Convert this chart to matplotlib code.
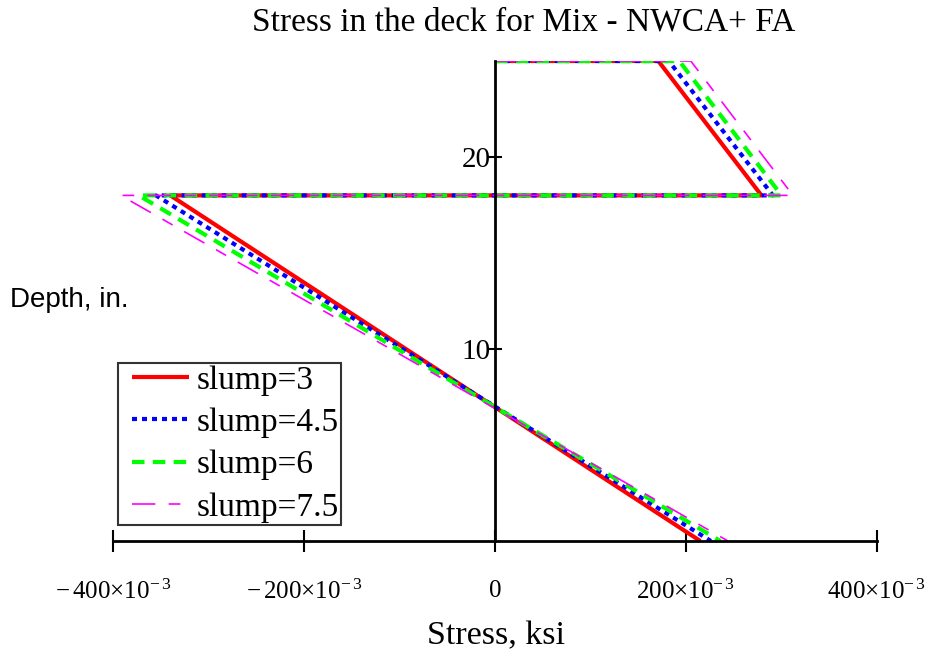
import matplotlib
matplotlib.use("Agg")
import matplotlib.pyplot as plt
from matplotlib.lines import Line2D
from matplotlib.legend_handler import HandlerLine2D

plt.rcParams['font.family'] = ['Liberation Serif', 'DejaVu Serif']
plt.rcParams['mathtext.fontset'] = 'custom'
plt.rcParams['mathtext.rm'] = 'Liberation Serif'
plt.rcParams['mathtext.it'] = 'Liberation Serif'

# stress profile points (ksi) for each slump, depth in inches
labels = ['slump=3', 'slump=4.5', 'slump=6', 'slump=7.5']
depth = [25, 25, 18, 18, 0]
x_top_25 = [0.171, 0.182, 0.193, 0.205]
x_top_18 = [0.279, 0.291, 0.300, 0.312]
x_bot_18 = [-0.340, -0.355, -0.373, -0.392]
x_bot_0 = [0.215, 0.226, 0.236, 0.244]

colors = ['#ff0000', '#0000ff', '#00ff00', '#ff00ff']
styles = ['-', (0, (1.2, 1.2)), (0, (3, 2)), (0, (14, 8, 7, 8))]
widths = [3, 3, 3, 1.2]

xticks = [-0.4, -0.2, 0, 0.2, 0.4]
xticklabels = [r'$-\,400{\times}10^{-\,3}$', r'$-\,200{\times}10^{-\,3}$', '0',
               r'$200{\times}10^{-\,3}$', r'$400{\times}10^{-\,3}$']
yticks = [10, 20]

fig = plt.figure(figsize=(9.37, 6.56), dpi=100)
ax = fig.add_axes([113/937, 115/656, 764/937, 480/656])

for i in range(4):
    xs = [0, x_top_25[i], x_top_18[i], x_bot_18[i], x_bot_0[i]]
    ax.plot(xs, depth, color=colors[i], linestyle=styles[i], linewidth=widths[i],
            label=labels[i], solid_capstyle='butt', dash_capstyle='butt')

ax.set_xlim(-0.4, 0.4)
ax.set_ylim(0, 25)
ax.spines['top'].set_visible(False)
ax.spines['right'].set_visible(False)
ax.spines['left'].set_position(('data', 0))
ax.spines['bottom'].set_position(('data', 0))
ax.spines['left'].set_linewidth(2)
ax.spines['bottom'].set_linewidth(2)
ax.set_xticks(xticks)
ax.set_xticklabels(xticklabels)
ax.set_yticks(yticks)
ax.tick_params(axis='x', direction='inout', length=16, width=1.5, pad=20, labelsize=18)
ax.tick_params(axis='y', direction='inout', length=10, width=1.5, pad=-2, labelsize=21)
for t in ax.get_yticklabels():
    t.set_horizontalalignment('right')

fig.text(524/937, 1 - 22/656, 'Stress in the deck for Mix - NWCA+ FA',
         ha='center', va='center', fontsize=24)
fig.text(0.529, 0.030, 'Stress, ksi', ha='center', va='center', fontsize=24.5)
fig.text(0.011, 0.543, 'Depth, in.', ha='left', va='center', fontsize=20,
         family=['Liberation Sans', 'DejaVu Sans'])

leg = ax.legend(loc='lower left', bbox_to_anchor=(118/937, 131/656),
                bbox_transform=fig.transFigure, fontsize=24, frameon=True,
                fancybox=False, edgecolor='black', handlelength=2.06,
                borderpad=0.06, labelspacing=0.36, handletextpad=0.25,
                borderaxespad=0, handler_map={Line2D: HandlerLine2D(xpad=0.35)})
leg.get_frame().set_linewidth(1.5)

fig.savefig('out.png', dpi=100)
